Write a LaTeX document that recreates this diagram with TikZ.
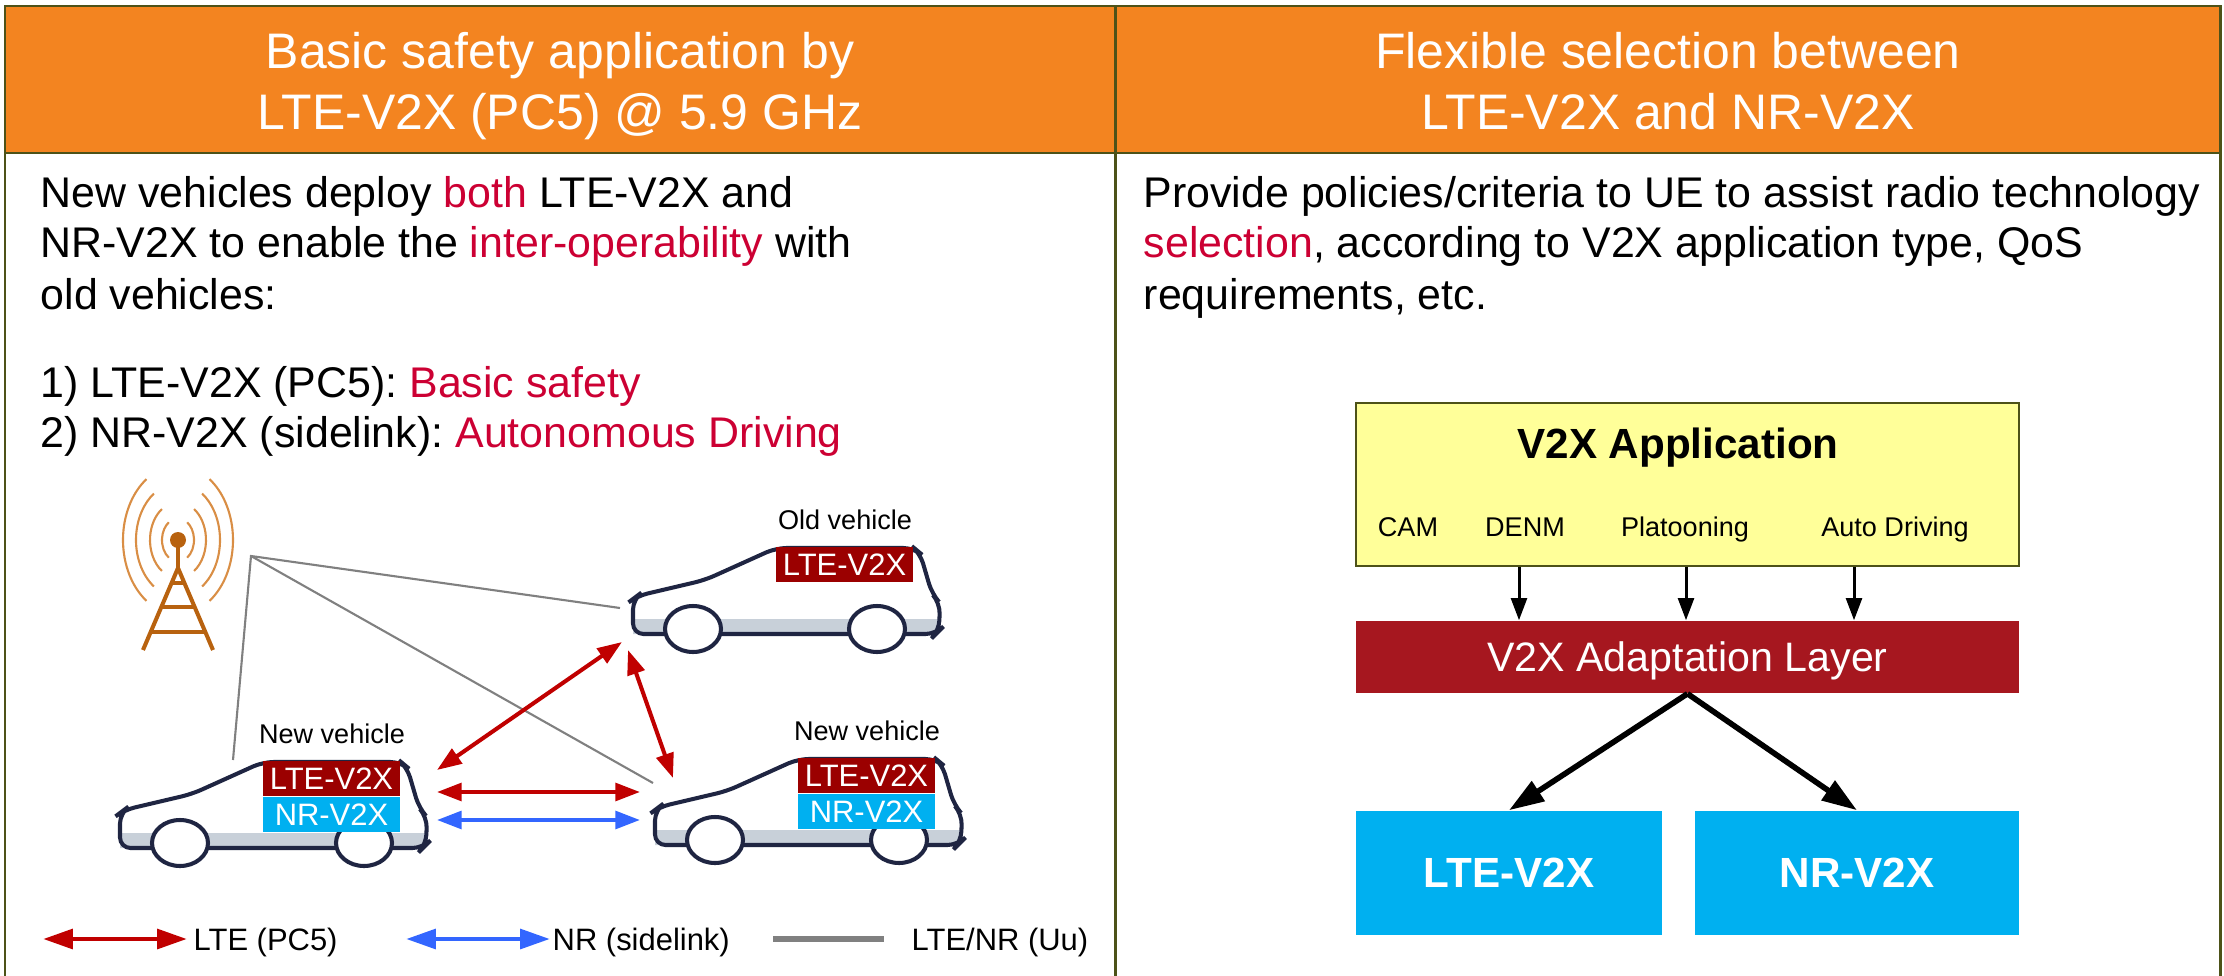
\documentclass[tikz,border=0pt]{standalone}
\usepackage{fontspec}
\setmainfont{Liberation Sans}
\usetikzlibrary{arrows.meta,positioning}
\frenchspacing

\definecolor{frameolive}{HTML}{4D5218}
\definecolor{headorange}{HTML}{F38420}
\definecolor{hilite}{HTML}{CC0033}
\definecolor{ltered}{HTML}{9B0000}
\definecolor{nrcyan}{HTML}{00B0F0}
\definecolor{linkred}{HTML}{C00000}
\definecolor{linkblue}{HTML}{3366FF}
\definecolor{uugray}{HTML}{808080}
\definecolor{carline}{HTML}{1F2542}
\definecolor{carsill}{HTML}{C8D0D9}
\definecolor{towerbrown}{HTML}{B8620F}
\definecolor{wavebrown}{HTML}{D98E45}
\definecolor{appyellow}{HTML}{FFFF99}
\definecolor{adaptred}{HTML}{A6171F}

\newcommand{\fsz}[2]{\fontsize{#1}{#2}\selectfont}
\newcommand{\hl}[1]{\textcolor{hilite}{#1}}

% body outline of a car, origin at the lower left corner
\newcommand{\carshape}{(0,0) -- (0,-35) -- (4,-38) -- (72,-54) -- (143,-86)
  -- (281,-86) -- (287,-81) -- (299,-40) -- (307,-31) -- (306,-3) -- (303,0) -- cycle}

% #1 origin, #2 name, #3 caption
\newcommand{\vehicle}[3]{%
  \begin{scope}[shift={#1}]
    \begin{scope}
      \clip \carshape;
      \fill[carsill] (-5,-15) rectangle (315,5);
    \end{scope}
    \draw[carline,line width=1.15pt,rounded corners=3pt] \carshape;
    \draw[carline,line width=1.15pt,fill=white] (60,-5) ellipse [x radius=28,y radius=23];
    \draw[carline,line width=1.15pt,fill=white] (244,-5) ellipse [x radius=28,y radius=23];
    \node[vlabel] (#2-cap) at (212,-105) {#3};
    \node[badge,fill=ltered] (#2-lte) at (211.5,-69.5) {LTE-V2X};
  \end{scope}}

\begin{document}
\begin{tikzpicture}[x=0.01cm,y=-0.01cm,
    frameline/.style={frameolive,line width=0.85pt},
    vlabel/.style={font=\fsz{7.7}{9},anchor=base,inner sep=0},
    badge/.style={text=white,font=\fsz{8.8}{10},inner sep=0,
      minimum width=1.37cm,minimum height=0.35cm},
    tower/.style={towerbrown,line width=1.15pt},
    wave/.style={wavebrown,line width=0.6pt},
    uu/.style={uugray,line width=0.6pt},
    lte/.style={linkred,line width=1.15pt,{Triangle[length=7pt,width=5pt]}-{Triangle[length=7pt,width=5pt]}},
    nr/.style={linkblue,line width=1.15pt,{Triangle[length=7pt,width=5pt]}-{Triangle[length=7pt,width=5pt]}},
    flow/.style={line width=0.85pt,-{Triangle[length=6.3pt,width=4.5pt]}},
    split/.style={line width=1.6pt,-{Triangle[length=10pt,width=6.5pt]}}]

\useasboundingbox (0,0) rectangle (2224,976);

% header band and table rules
\fill[headorange] (5,6) rectangle (2220,153);
\draw[frameline] (5,976) -- (5,6) -- (2220,6) -- (2220,976);
\draw[frameline] (5,153) -- (2220,153);
\draw[frameline] (1115,6) -- (1115,976);

\begin{scope}[every node/.style={text=white,font=\fsz{14.2}{17},anchor=base,inner sep=0}]
  \node (head-l1) at (560,69) {Basic safety application by};
  \node (head-l2) at (560,130) {LTE-V2X (PC5) @ 5.9 GHz};
  \node (head-r1) at (1668,69) {Flexible selection between};
  \node (head-r2) at (1668,130) {LTE-V2X and NR-V2X};
\end{scope}

\begin{scope}[every node/.style={font=\fsz{12.2}{14.6},anchor=base west,inner sep=0}]
  \node (txt-l1) at (40,208) {New vehicles deploy \hl{both} LTE-V2X and};
  \node (txt-l2) at (40,258) {NR-V2X to enable the \hl{inter-operability} with};
  \node (txt-l3) at (40,310) {old vehicles:};
  \node (txt-l4) at (40,397) {1) LTE-V2X (PC5): \hl{Basic safety}};
  \node (txt-l5) at (40,447) {2) NR-V2X (sidelink): \hl{Autonomous Driving}};
  \node (txt-r1) at (1143,208) {Provide policies/criteria to UE to assist radio technology};
  \node (txt-r2) at (1143,258) {\hl{selection}, according to V2X application type, QoS};
  \node (txt-r3) at (1143,310) {requirements, etc.};
\end{scope}

% base station
\coordinate (tw) at (178,540);
\coordinate (apex) at (178,568);
\fill[towerbrown] (tw) circle [radius=8];
\draw[tower] (tw) -- (apex);
\draw[tower] (143,650) -- (apex) -- (213,650);
\draw[tower] (171.6,583) -- (184.4,583);
\draw[tower] (161.3,607) -- (194.7,607);
\draw[tower] (151,632) -- (205,632);
\foreach \r [evaluate=\r as \ry using 1.35*\r] in {16,28,42,55} {
  \draw[wave] (tw) ++(55:{\r} and {\ry}) arc [start angle=55,end angle=-55,x radius=\r,y radius=\ry];
  \draw[wave] (tw) ++(125:{\r} and {\ry}) arc [start angle=125,end angle=235,x radius=\r,y radius=\ry];
}

% vehicles
\vehicle{(120,848)}{newl}{New vehicle}
\vehicle{(633,634)}{old}{Old vehicle}
\vehicle{(655,845)}{newr}{New vehicle}
\node[badge,fill=nrcyan,below=0pt of newl-lte] (newl-nr) {NR-V2X};
\node[badge,fill=nrcyan,below=0pt of newr-lte] (newr-nr) {NR-V2X};

% Uu links
\coordinate (hub) at (251,556);
\coordinate (uu-l) at (233,760);
\coordinate (uu-o) at (620,608);
\coordinate (uu-r) at (653,783);
\draw[uu] (uu-l) -- (hub) -- (uu-o);
\draw[uu] (hub) -- (uu-r);

% sidelinks
\coordinate (l-diag) at (437,770);
\coordinate (o-diag) at (622,642);
\coordinate (o-vert) at (628,650);
\coordinate (r-vert) at (673,778);
\coordinate (l-pc5) at (437,792);
\coordinate (r-pc5) at (640,792);
\coordinate (l-sl) at (437,820);
\coordinate (r-sl) at (640,820);
\draw[lte] (l-diag) -- (o-diag);
\draw[lte] (o-vert) -- (r-vert);
\draw[lte] (l-pc5) -- (r-pc5);
\draw[nr] (l-sl) -- (r-sl);

% legend
\begin{scope}[every node/.style={font=\fsz{8.8}{10},anchor=base west,inner sep=0}]
  \coordinate (key-a1) at (43,939);
  \coordinate (key-a2) at (187,939);
  \coordinate (key-b1) at (406,939);
  \coordinate (key-b2) at (550,939);
  \coordinate (key-c1) at (773,939);
  \coordinate (key-c2) at (884,939);
  \draw[lte,line width=1.4pt,{Triangle[length=8.5pt,width=5.5pt]}-{Triangle[length=8.5pt,width=5.5pt]}] (key-a1) -- (key-a2);
  \draw[nr,line width=1.4pt,{Triangle[length=8.5pt,width=5.5pt]}-{Triangle[length=8.5pt,width=5.5pt]}] (key-b1) -- (key-b2);
  \draw[uugray,line width=1.7pt] (key-c1) -- (key-c2);
  \node (key-lte) at (193,950) {LTE (PC5)};
  \node (key-nr) at (552,950) {NR (sidelink)};
  \node (key-uu) at (911,950) {LTE/NR (Uu)};
\end{scope}

% protocol stack
\node[draw=frameolive,line width=0.5pt,fill=appyellow,minimum width=6.63cm,minimum height=1.63cm,inner sep=0]
  (app) at (1687.5,484.5) {};
\node[font=\bfseries\fsz{12}{14},anchor=base,inner sep=0] (app-title) at (1678,458) {V2X Application};
\begin{scope}[every node/.style={font=\fsz{7.7}{9},anchor=base,inner sep=0}]
  \node (cam) at (1408,536) {CAM};
  \node (denm) at (1525,536) {DENM};
  \node (plat) at (1685,536) {Platooning};
  \node (auto) at (1895,536) {Auto Driving};
\end{scope}
\node[fill=adaptred,text=white,font=\fsz{11.7}{14},text depth=0pt,inner sep=0,
  minimum width=6.63cm,minimum height=0.72cm] (adapt) at (1687.5,657) {V2X Adaptation Layer};
\begin{scope}[every node/.style={fill=nrcyan,text=white,font=\bfseries\fsz{12}{14},inner sep=0,minimum height=1.24cm}]
  \node[minimum width=3.06cm] (lte-box) at (1509,873) {LTE-V2X};
  \node[minimum width=3.24cm] (nr-box) at (1857,873) {NR-V2X};
\end{scope}

\coordinate (col1) at (1519,0);
\coordinate (col2) at (1686,0);
\coordinate (col3) at (1854,0);
\foreach \c in {col1,col2,col3}
  \draw[flow] (app.south -| \c) -- (adapt.north -| \c);
\draw[split] (adapt.south) -- (lte-box.north);
\draw[split] (adapt.south) -- (nr-box.north);

\end{tikzpicture}
\end{document}
